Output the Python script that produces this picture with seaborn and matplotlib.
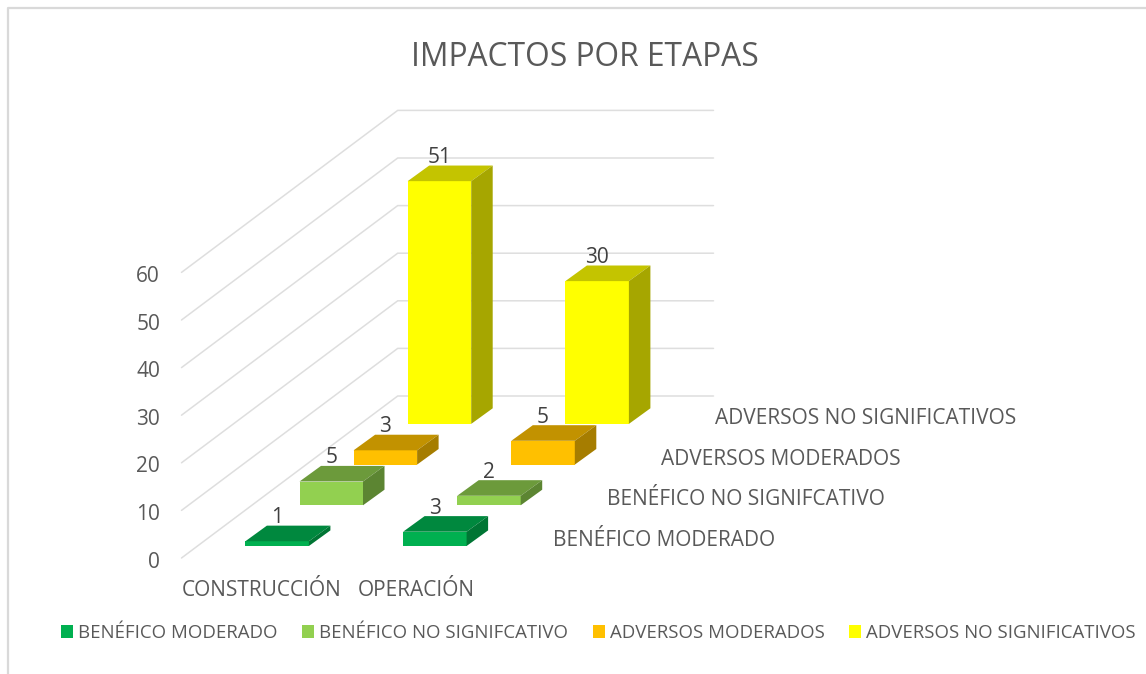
import matplotlib
matplotlib.use("Agg")
import matplotlib.pyplot as plt
import seaborn as sns
import pandas as pd
from matplotlib.patches import Patch, Polygon

sns.set_theme(style="white")
plt.rcParams['font.family'] = ['Open Sans', 'DejaVu Sans']

TITLE = "IMPACTOS POR ETAPAS"
stages = ["CONSTRUCCIÓN", "OPERACIÓN"]
series = ["BENÉFICO MODERADO", "BENÉFICO NO SIGNIFCATIVO", "ADVERSOS MODERADOS", "ADVERSOS NO SIGNIFICATIVOS"]
beneficio_moderado = [1, 3]
beneficio_no_sig = [5, 2]
adversos_moderados = [3, 5]
adversos_no_sig = [51, 30]
value_ticks = [0, 10, 20, 30, 40, 50, 60]

front_colors = ["#00B050", "#92D050", "#FFC000", "#FFFF00"]
top_colors = ["#00883E", "#6C9A3B", "#C29200", "#C4C400"]
side_colors = ["#007534", "#5C8532", "#A67D00", "#A6A600"]
TEXT = "#595959"
LABEL = "#404040"
GRID = "#DEDEDE"
FS = 15

W, H = 1146, 674
PX_X, PX_Y = 157.7, 4.76          # pixels per stage unit / per value unit
X0, Y0 = 277.15, 546.0            # pixel of stage 0, depth 0, value 0
BAR_W = 63.5 / PX_X
DX, DY = 54.1 / PX_X, 40.7 / PX_Y  # shift per series
SX, SY = 21.5 / PX_X, 15.6 / PX_Y  # bar depth


def px(x):
    return (x - X0) / PX_X


def py(y):
    return (Y0 - y) / PX_Y


fig, ax = plt.subplots(figsize=(W / 100, H / 100), dpi=100)
fig.subplots_adjust(0, 0, 1, 1)

values = [beneficio_moderado, beneficio_no_sig, adversos_moderados, adversos_no_sig]

# walls
FL_X, FL_Y = px(181.5), py(558)
BK_X, BK_Y = px(397.7), py(396)
RT_X = px(713.5)
for t in value_ticks:
    ax.plot([FL_X, BK_X, RT_X], [FL_Y + t, BK_Y + t, BK_Y + t], color=GRID, lw=1.1, zorder=1,
            solid_joinstyle="miter")
    ax.text(px(160), FL_Y + t + py(4) - py(0), str(t), ha="right", va="center", color=TEXT, fontsize=FS)

# bars, back series first
for d in range(len(series) - 1, -1, -1):
    xs = [i + d * DX for i in range(len(stages))]
    base = d * DY
    df = pd.DataFrame({"x": xs, "v": values[d]})
    sns.barplot(data=df, x="x", y="v", native_scale=True, width=BAR_W, color=front_colors[d],
                saturation=1, errorbar=None, bottom=base, linewidth=0, ax=ax, zorder=3 + (3 - d))
    for x, v in zip(xs, values[d]):
        l, r = x - BAR_W / 2, x + BAR_W / 2
        top = base + v
        ax.add_patch(Polygon([(l, top), (r, top), (r + SX, top + SY), (l + SX, top + SY)],
                             fc=top_colors[d], ec="none", zorder=3 + (3 - d)))
        ax.add_patch(Polygon([(r, base), (r + SX, base + SY), (r + SX, top + SY), (r, top)],
                             fc=side_colors[d], ec="none", zorder=3 + (3 - d)))
        ax.text(x, top + SY + 8 / PX_Y, str(v), ha="center", va="center", color=LABEL,
                fontsize=FS, zorder=10)
    ax.text(px(553) + d * DX, py(540.5) + d * DY, series[d],
            ha="left", va="center", color=TEXT, fontsize=FS)

for s, cx in zip(stages, [261.2, 415.8]):
    ax.text(px(cx), py(590.5), s, ha="center", va="center", color=TEXT, fontsize=FS)

ax.set_xlim(-X0 / PX_X, (W - X0) / PX_X)
ax.set_ylim((Y0 - H) / PX_Y, Y0 / PX_Y)
ax.axis("off")

# chart frame (left and top edges)
ax.plot([8 / W, 8 / W, 1], [0, 1 - 8 / H, 1 - 8 / H], transform=ax.transAxes,
        color="#D9D9D9", lw=1.6, clip_on=False, zorder=1)

ax.text(px(584.5), py(57), TITLE, ha="center", va="center", color=TEXT, fontsize=22.9)

handles = [Patch(fc=c, ec="none") for c in front_colors]
leg = ax.legend(handles, series, ncol=4, frameon=False, loc="center", fontsize=13.4,
                bbox_to_anchor=(598.5 / W, 1 - 633 / H), handlelength=0.645, handleheight=0.645,
                handletextpad=0.27, columnspacing=1.32, labelcolor=TEXT, borderpad=0, borderaxespad=0)

fig.savefig("out.png", dpi=100, facecolor="white")
